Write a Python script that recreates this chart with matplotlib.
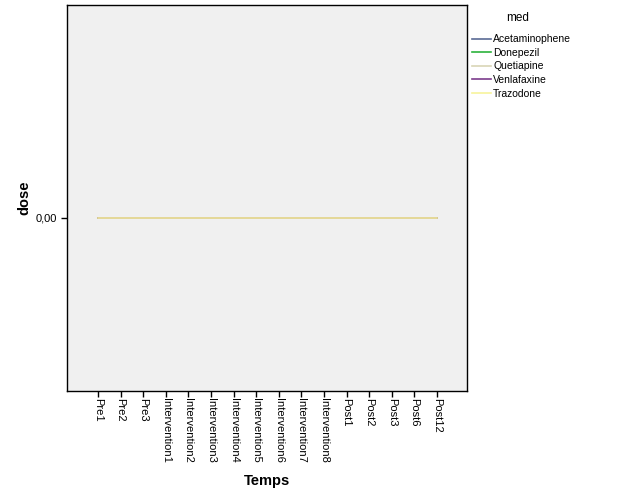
import matplotlib
matplotlib.use('Agg')
import matplotlib.pyplot as plt

plt.rcParams['font.family'] = ['Liberation Sans', 'DejaVu Sans']

temps = ['Pre1', 'Pre2', 'Pre3', 'Intervention1', 'Intervention2', 'Intervention3',
         'Intervention4', 'Intervention5', 'Intervention6', 'Intervention7',
         'Intervention8', 'Post1', 'Post2', 'Post3', 'Post6', 'Post12']

meds = ['Acetaminophene', 'Donepezil', 'Quetiapine', 'Venlafaxine', 'Trazodone']
med_colors = ['#5a6b95', '#2cb33c', '#d9d6b6', '#7b3c8c', '#f7f39c']

# every medication stays at 0 dose across all time points
dose = {
    'Acetaminophene': [0.0] * 16,
    'Donepezil': [0.0] * 16,
    'Quetiapine': [0.0] * 16,
    'Venlafaxine': [0.0] * 16,
    'Trazodone': [0.0] * 16,
}

fig = plt.figure(figsize=(6.26, 5.01), dpi=100)
ax = fig.add_axes([67 / 626, 110 / 501, 400 / 626, 386 / 501])
ax.set_facecolor('#f0f0f0')

x = list(range(len(temps)))
for med, col in zip(meds, med_colors):
    ax.plot(x, dose[med], color=col, linewidth=1.2, label=med)

ax.set_xlim(-1.37, 16.33)
ax.set_ylim(-0.1735, 0.2125)

ax.set_xticks(x)
ax.set_xticklabels(temps, rotation=270, fontsize=8)
ax.set_yticks([0])
ax.set_yticklabels(['0,00'], fontsize=8)
ax.tick_params(axis='both', direction='out', length=4, width=1, color='black')
ax.tick_params(axis='x', pad=1)

for s in ax.spines.values():
    s.set_color('black')
    s.set_linewidth(1)

ax.set_xlabel('Temps', fontsize=10.5, fontweight='bold', labelpad=8)
ax.set_ylabel('dose', fontsize=10.5, fontweight='bold', labelpad=3)

fig.text(518 / 626, 1 - 18 / 501, 'med', fontsize=8.5, ha='center', va='center')
leg = fig.legend(loc='upper left', bbox_to_anchor=(468 / 626, 1 - 30 / 501),
                 frameon=False, fontsize=7.5,
                 handlelength=1.8, handletextpad=0.2, labelspacing=0.35,
                 borderaxespad=0)

fig.savefig('out.png', dpi=100)
